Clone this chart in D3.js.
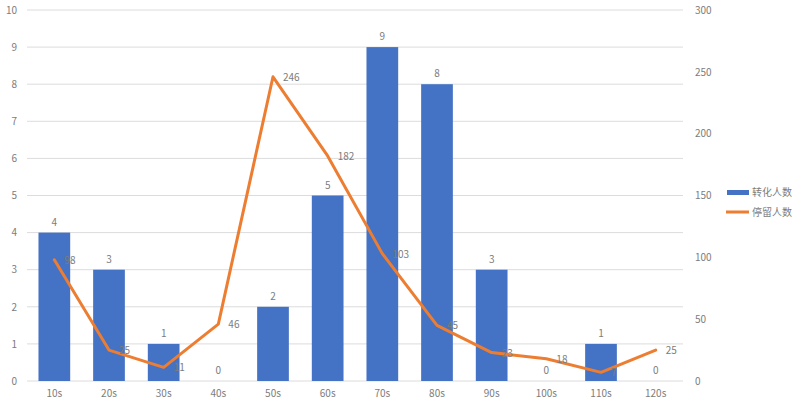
<!DOCTYPE html>
<html>
<head>
<meta charset="utf-8">
<script src="https://cdn.jsdelivr.net/npm/d3@7"></script>
<style>
  html, body { margin: 0; padding: 0; background: #fff; }
  svg { display: block; }
  text { font-family: "Noto Sans CJK SC", "Open Sans", sans-serif; }
</style>
</head>
<body>
<svg id="chart" width="800" height="405"></svg>
<script>
const categories = ["10s","20s","30s","40s","50s","60s","70s","80s","90s","100s","110s","120s"];
const conversions = [4,3,1,0,2,5,9,8,3,0,1,0];   // 转化人数
const stays = [98,25,11,46,246,182,103,45,23,18,7,25]; // 停留人数
const leftTicks = [0,1,2,3,4,5,6,7,8,9,10];
const rightTicks = [0,50,100,150,200,250,300];
const seriesNames = ["转化人数","停留人数"];

const barColor = "#4472C4", lineColor = "#ED7D31", textColor = "#7c7c7c", gridColor = "#dcdcdc";
const svg = d3.select("#chart");
const plotLeft = 27, plotRight = 683, plotTop = 10, plotBottom = 381;

const x = d3.scaleBand().domain(categories).range([plotLeft, plotRight]).paddingInner(0.42).paddingOuter(0.21);
const yL = d3.scaleLinear().domain([0,10]).range([plotBottom, plotTop]);
const yR = d3.scaleLinear().domain([0,300]).range([plotBottom, plotTop]);

// gridlines
svg.append("g").selectAll("line").data(leftTicks).join("line")
  .attr("x1", plotLeft).attr("x2", plotRight)
  .attr("y1", d => yL(d)).attr("y2", d => yL(d))
  .attr("stroke", gridColor).attr("stroke-width", 1);

// left axis
const gL = svg.append("g").attr("transform", `translate(${plotLeft},0)`)
  .call(d3.axisLeft(yL).tickValues(leftTicks).tickSize(0).tickPadding(10));
gL.select(".domain").remove();
gL.selectAll("text").attr("fill", textColor).attr("font-size", 10);

// right axis
const gR = svg.append("g").attr("transform", `translate(${plotRight},0)`)
  .call(d3.axisRight(yR).tickValues(rightTicks).tickSize(0).tickPadding(12));
gR.select(".domain").remove();
gR.selectAll("text").attr("fill", textColor).attr("font-size", 10);

// x axis
const gX = svg.append("g").attr("transform", `translate(0,${plotBottom})`)
  .call(d3.axisBottom(x).tickSize(0).tickPadding(9));
gX.select(".domain").remove();
gX.selectAll("text").attr("fill", textColor).attr("font-size", 10);

// bars
svg.append("g").selectAll("rect").data(categories).join("rect")
  .attr("x", d => x(d)).attr("width", x.bandwidth())
  .attr("y", (d,i) => yL(conversions[i]))
  .attr("height", (d,i) => yL(0) - yL(conversions[i]))
  .attr("fill", barColor);

// bar labels
svg.append("g").selectAll("text").data(categories).join("text")
  .attr("x", d => x(d) + x.bandwidth()/2)
  .attr("y", (d,i) => yL(conversions[i]) - 7)
  .attr("text-anchor", "middle").attr("font-size", 10).attr("fill", textColor)
  .text((d,i) => conversions[i]);

// line
const line = d3.line()
  .x((d,i) => x(categories[i]) + x.bandwidth()/2)
  .y(d => yR(d));
svg.append("path").datum(stays).attr("d", line)
  .attr("fill", "none").attr("stroke", lineColor).attr("stroke-width", 3)
  .attr("stroke-linejoin", "round").attr("stroke-linecap", "round");

// line labels
svg.append("g").selectAll("text").data(stays).join("text")
  .attr("x", (d,i) => x(categories[i]) + x.bandwidth()/2 + 10)
  .attr("y", d => yR(d) + 4)
  .attr("font-size", 10).attr("fill", textColor)
  .text(d => d);

// legend
const lg = svg.append("g");
lg.append("rect").attr("x", 727).attr("y", 190).attr("width", 22).attr("height", 5).attr("fill", barColor);
lg.append("text").attr("x", 752).attr("y", 196).attr("font-size", 10).attr("fill", textColor).text(seriesNames[0]);
lg.append("line").attr("x1", 726).attr("x2", 749).attr("y1", 212).attr("y2", 212)
  .attr("stroke", lineColor).attr("stroke-width", 3);
lg.append("text").attr("x", 752).attr("y", 216).attr("font-size", 10).attr("fill", textColor).text(seriesNames[1]);
</script>
</body>
</html>
